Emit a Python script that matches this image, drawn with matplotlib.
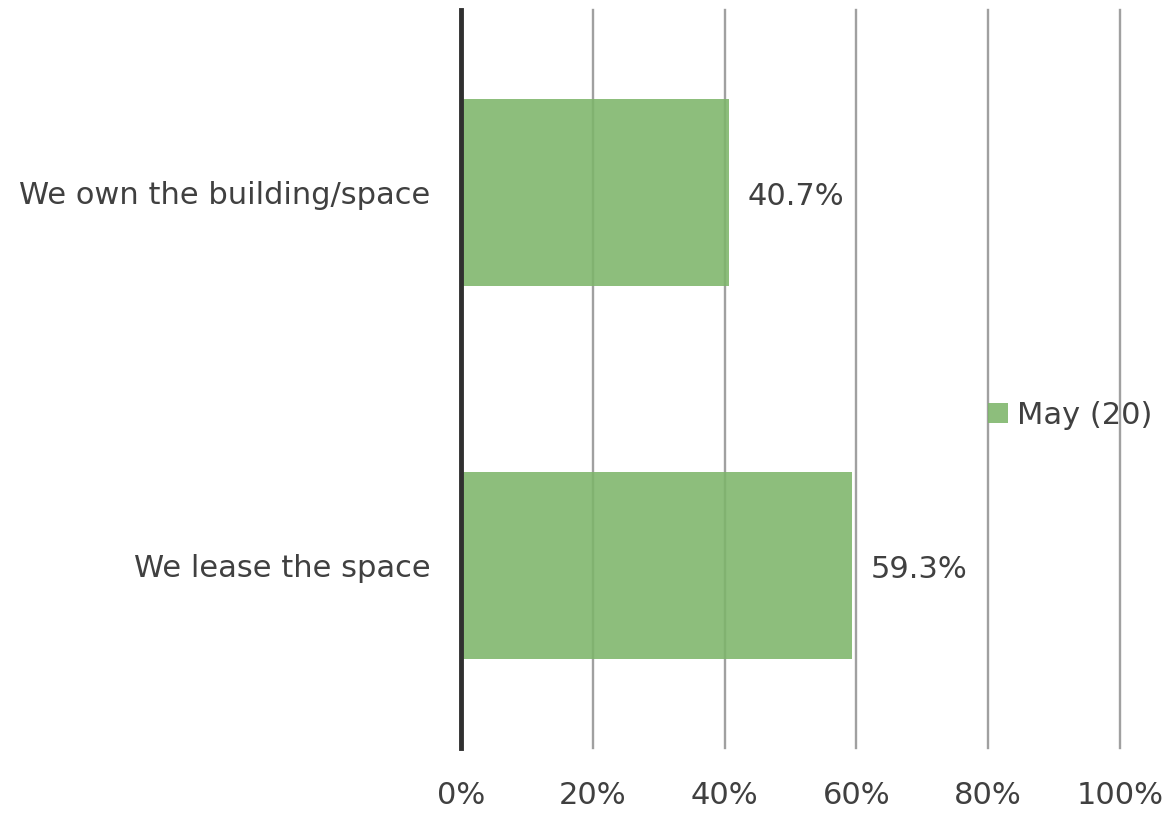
import matplotlib
matplotlib.use("Agg")
import matplotlib.pyplot as plt

categories = ["We own the building/space", "We lease the space"]
values = [40.7, 59.3]
series_name = "May (20)"
xticks = [0, 20, 40, 60, 80, 100]
xtick_labels = ["0%", "20%", "40%", "60%", "80%", "100%"]

TXT = "#404040"
BAR = "#7db56a"

plt.rcParams['font.family'] = ['DejaVu Sans']
fig = plt.figure(figsize=(11.7, 8.14), dpi=100)
ax = fig.add_axes([461/1170, 1-748/814, (1120-461)/1170, (748-10)/814])

y = list(range(len(categories)))
bars = ax.barh(y, values, height=0.5, color=BAR, alpha=0.88, zorder=2, label=series_name)
ax.set_ylim(1.49, -0.49)
ax.set_xlim(0, 100)
ax.set_xticks(xticks)
ax.set_xticklabels(xtick_labels)
ax.set_yticks(y)
ax.set_yticklabels(categories)
ax.tick_params(axis='x', length=0, pad=24, labelsize=22, colors=TXT)
ax.tick_params(axis='y', length=0, pad=22, labelsize=22, colors=TXT)
for t in xticks[1:]:
    ax.axvline(t, color="#a0a0a0", lw=1.7, zorder=1, clip_on=False)
ax.axvline(0, color="#303030", lw=3.5, zorder=3, clip_on=False)
for s in ax.spines.values():
    s.set_visible(False)

for yi, v in zip(y, values):
    ax.text(v + 2.8, yi + 0.01, f"{v:.1f}%", va='center', ha='left', fontsize=22, color=TXT)

leg = ax.legend(loc='center left', bbox_to_anchor=(988/1170, 1-415/814), bbox_transform=fig.transFigure,
                frameon=False, fontsize=22, handlelength=0.65, handleheight=0.65, handletextpad=0.3,
                labelcolor=TXT, borderpad=0, borderaxespad=0)

fig.savefig("out.png", dpi=100)
